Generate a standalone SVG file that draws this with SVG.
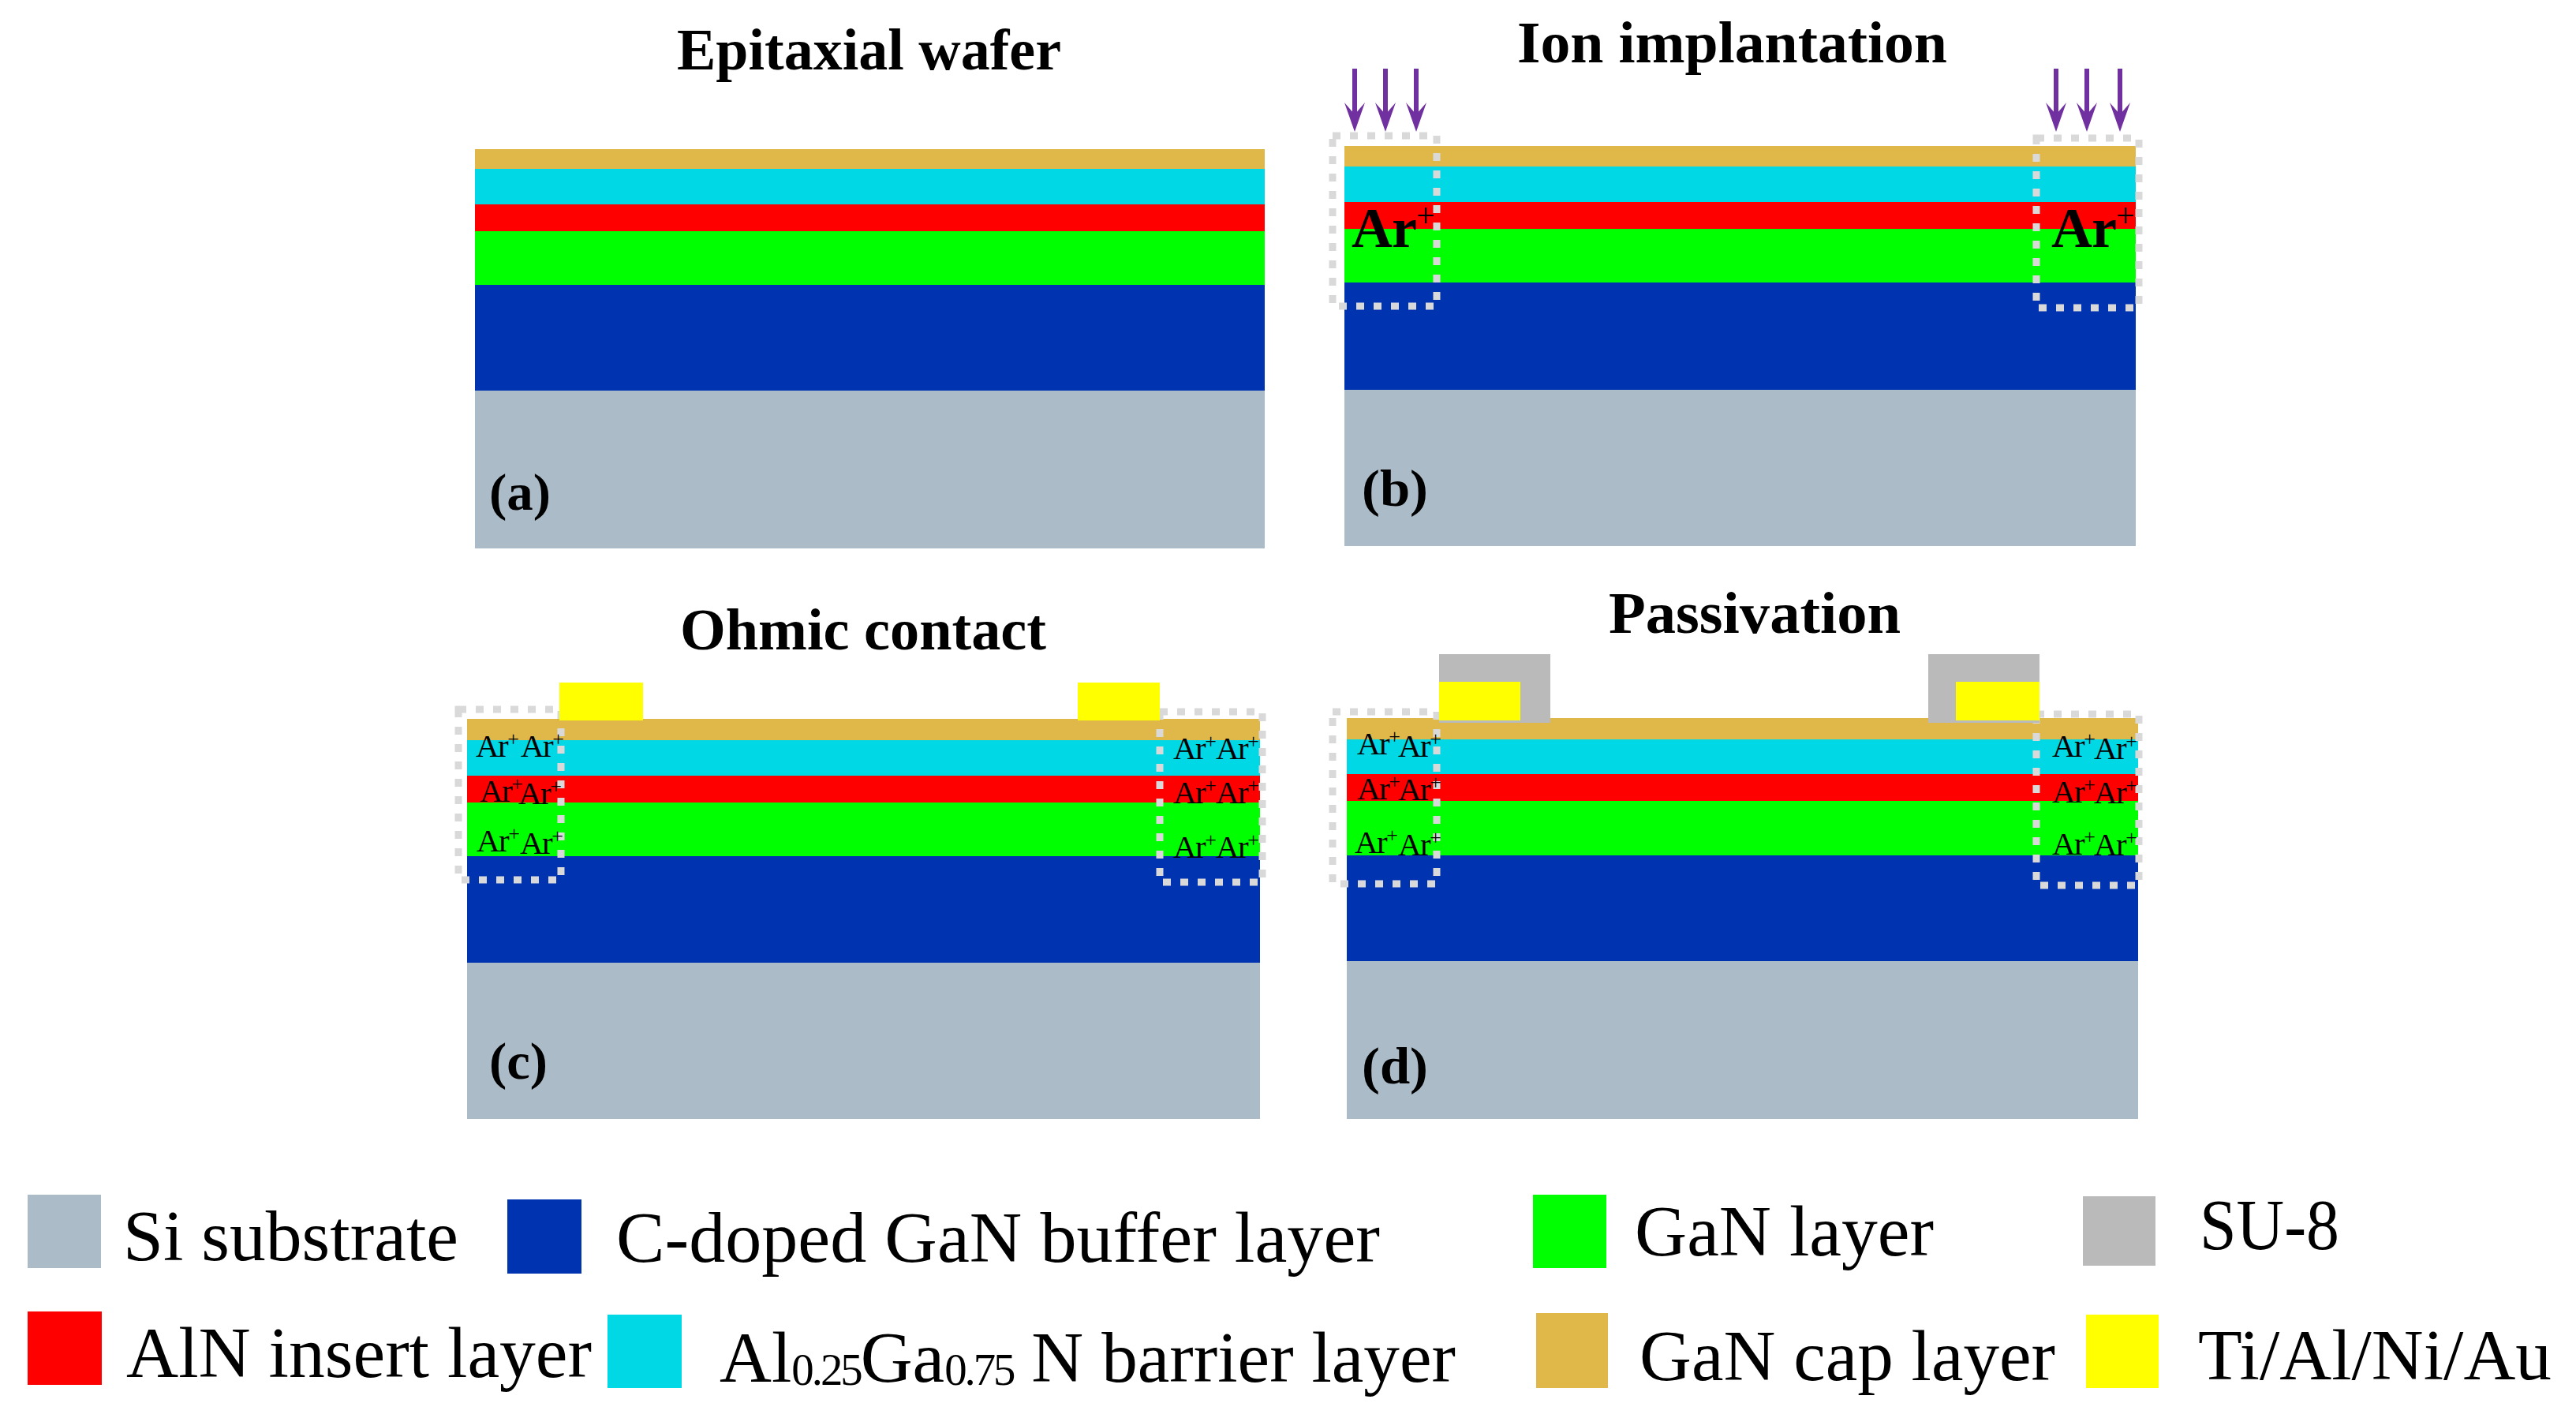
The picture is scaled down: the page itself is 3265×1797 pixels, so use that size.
<svg xmlns="http://www.w3.org/2000/svg" width="3265" height="1797" viewBox="0 0 3265 1797">
<style>
text{font-family:"Liberation Serif","Times New Roman",serif;fill:#000}
.t{font-size:73px;font-weight:bold}
.p{font-size:66px;font-weight:bold}
.l{font-size:90px}
.a{font-size:41px;letter-spacing:-1.5px}
.A{font-size:72px;font-weight:bold;letter-spacing:-1px}
.s{font-size:26px}
.S{font-size:42px;font-weight:normal}
.sub{font-size:56px;letter-spacing:-3px}
.si{fill:#ABBBC8}.bf{fill:#0033B0}.gn{fill:#00FF00}.rd{fill:#FF0000}.cy{fill:#00D8E6}.cp{fill:#E0B84A}.ye{fill:#FFFF00}.gr{fill:#BABABA}
.d{fill:none;stroke:#D9D9D9;stroke-width:9;stroke-dasharray:10 12}
.sh{stroke:#7030A0;stroke-width:6;fill:none}
.hd{fill:#7030A0;stroke:none}
</style>
<defs>
<g id="arrow"><path class="sh" d="M0 87V150"/><path class="hd" d="M0 167L-13 130L0 145L13 130Z"/></g>
</defs>
<rect width="3265" height="1797" fill="#fff"/>

<g id="panel-a">
<rect class="si" x="602" y="495" width="1001" height="200"/>
<rect class="bf" x="602" y="361" width="1001" height="134"/>
<rect class="gn" x="602" y="293" width="1001" height="68"/>
<rect class="rd" x="602" y="259" width="1001" height="34"/>
<rect class="cy" x="602" y="214" width="1001" height="45"/>
<rect class="cp" x="602" y="189" width="1001" height="25"/>
<text class="t" x="858" y="88" textLength="487" lengthAdjust="spacingAndGlyphs">Epitaxial wafer</text>
<text class="p" x="620" y="646" textLength="78" lengthAdjust="spacingAndGlyphs">(a)</text>
</g>

<g id="panel-b">
<rect class="si" x="1704" y="494" width="1003" height="198"/>
<rect class="bf" x="1704" y="358" width="1003" height="136"/>
<rect class="gn" x="1704" y="290" width="1003" height="68"/>
<rect class="rd" x="1704" y="256" width="1003" height="34"/>
<rect class="cy" x="1704" y="211" width="1003" height="45"/>
<rect class="cp" x="1704" y="185" width="1003" height="26"/>
<rect class="d" x="1689" y="172" width="132" height="216"/>
<rect class="d" x="2581" y="175" width="130" height="215"/>
<text class="t" x="1923" y="79" textLength="545" lengthAdjust="spacingAndGlyphs">Ion implantation</text>
<text class="p" x="1726" y="641" textLength="84" lengthAdjust="spacingAndGlyphs">(b)</text>
<text class="A" x="1713" y="313">Ar<tspan class="S" dy="-26">+</tspan></text>
<text class="A" x="2600" y="313">Ar<tspan class="S" dy="-26">+</tspan></text>
</g>

<g id="panel-c">
<rect class="si" x="592" y="1220" width="1005" height="198"/>
<rect class="bf" x="592" y="1085" width="1005" height="135"/>
<rect class="gn" x="592" y="1017" width="1005" height="68"/>
<rect class="rd" x="592" y="983" width="1005" height="34"/>
<rect class="cy" x="592" y="938" width="1005" height="45"/>
<rect class="cp" x="592" y="911" width="1005" height="27"/>
<rect class="d" x="581" y="899" width="130" height="216"/>
<rect class="d" x="1470" y="902" width="130" height="216"/>
<rect class="ye" x="709" y="865" width="106" height="48"/>
<rect class="ye" x="1366" y="865" width="104" height="48"/>
<text class="t" x="862" y="823" textLength="464" lengthAdjust="spacingAndGlyphs">Ohmic contact</text>
<text class="p" x="620" y="1367" textLength="74" lengthAdjust="spacingAndGlyphs">(c)</text>
<text class="a" x="603" y="959">Ar<tspan class="s" dy="-14">+</tspan></text>
<text class="a" x="660" y="959">Ar<tspan class="s" dy="-14">+</tspan></text>
<text class="a" x="608" y="1016">Ar<tspan class="s" dy="-14">+</tspan></text>
<text class="a" x="657" y="1019">Ar<tspan class="s" dy="-14">+</tspan></text>
<text class="a" x="604" y="1079">Ar<tspan class="s" dy="-14">+</tspan></text>
<text class="a" x="659" y="1082">Ar<tspan class="s" dy="-14">+</tspan></text>
<text class="a" x="1487" y="962">Ar<tspan class="s" dy="-14">+</tspan></text>
<text class="a" x="1541" y="962">Ar<tspan class="s" dy="-14">+</tspan></text>
<text class="a" x="1487" y="1018">Ar<tspan class="s" dy="-14">+</tspan></text>
<text class="a" x="1541" y="1018">Ar<tspan class="s" dy="-14">+</tspan></text>
<text class="a" x="1487" y="1087">Ar<tspan class="s" dy="-14">+</tspan></text>
<text class="a" x="1541" y="1087">Ar<tspan class="s" dy="-14">+</tspan></text>
</g>

<g id="panel-d">
<rect class="si" x="1707" y="1218" width="1003" height="200"/>
<rect class="bf" x="1707" y="1084" width="1003" height="134"/>
<rect class="gn" x="1707" y="1015" width="1003" height="69"/>
<rect class="rd" x="1707" y="981" width="1003" height="34"/>
<rect class="cy" x="1707" y="937" width="1003" height="44"/>
<rect class="cp" x="1707" y="910" width="1003" height="27"/>
<rect class="d" x="1689" y="902" width="132" height="218"/>
<rect class="d" x="2581" y="905" width="130" height="217"/>
<rect class="gr" x="1824" y="829" width="141" height="87"/>
<rect class="gr" x="2444" y="829" width="141" height="87"/>
<rect class="ye" x="1824" y="864" width="103" height="49"/>
<rect class="ye" x="2479" y="864" width="106" height="49"/>
<text class="t" x="2039" y="802" textLength="370" lengthAdjust="spacingAndGlyphs">Passivation</text>
<text class="p" x="1726" y="1373" textLength="84" lengthAdjust="spacingAndGlyphs">(d)</text>
<text class="a" x="1720" y="956">Ar<tspan class="s" dy="-14">+</tspan></text>
<text class="a" x="1772" y="959">Ar<tspan class="s" dy="-14">+</tspan></text>
<text class="a" x="1720" y="1013">Ar<tspan class="s" dy="-14">+</tspan></text>
<text class="a" x="1772" y="1014">Ar<tspan class="s" dy="-14">+</tspan></text>
<text class="a" x="1717" y="1081">Ar<tspan class="s" dy="-14">+</tspan></text>
<text class="a" x="1772" y="1084">Ar<tspan class="s" dy="-14">+</tspan></text>
<text class="a" x="2601" y="959">Ar<tspan class="s" dy="-14">+</tspan></text>
<text class="a" x="2654" y="962">Ar<tspan class="s" dy="-14">+</tspan></text>
<text class="a" x="2601" y="1017">Ar<tspan class="s" dy="-14">+</tspan></text>
<text class="a" x="2654" y="1018">Ar<tspan class="s" dy="-14">+</tspan></text>
<text class="a" x="2601" y="1083">Ar<tspan class="s" dy="-14">+</tspan></text>
<text class="a" x="2654" y="1084">Ar<tspan class="s" dy="-14">+</tspan></text>
</g>

<g id="connectors">
<use href="#arrow" x="1717"/>
<use href="#arrow" x="1756"/>
<use href="#arrow" x="1795"/>
<use href="#arrow" x="2606"/>
<use href="#arrow" x="2645"/>
<use href="#arrow" x="2687"/>
</g>

<g id="legend">
<rect class="si" x="35" y="1514" width="93" height="93"/>
<rect class="bf" x="643" y="1520" width="94" height="94"/>
<rect class="gn" x="1943" y="1514" width="93" height="93"/>
<rect class="gr" x="2640" y="1516" width="92" height="88"/>
<rect class="rd" x="35" y="1662" width="94" height="93"/>
<rect class="cy" x="770" y="1666" width="94" height="93"/>
<rect class="cp" x="1947" y="1664" width="91" height="95"/>
<rect class="ye" x="2644" y="1666" width="92" height="93"/>
<text class="l" x="156" y="1597" textLength="425" lengthAdjust="spacingAndGlyphs">Si substrate</text>
<text class="l" x="781" y="1599" textLength="968" lengthAdjust="spacingAndGlyphs">C-doped GaN buffer layer</text>
<text class="l" x="2072" y="1591" textLength="379" lengthAdjust="spacingAndGlyphs">GaN layer</text>
<text class="l" x="2788" y="1583" textLength="177" lengthAdjust="spacingAndGlyphs">SU-8</text>
<text class="l" x="160" y="1745" textLength="590" lengthAdjust="spacingAndGlyphs">AlN insert layer</text>
<text class="l" x="912" y="1751" textLength="933" lengthAdjust="spacingAndGlyphs">Al<tspan class="sub" dy="4">0.25</tspan><tspan dy="-4">Ga</tspan><tspan class="sub" dy="4">0.75</tspan><tspan dy="-4"> N barrier layer</tspan></text>
<text class="l" x="2078" y="1749" textLength="527" lengthAdjust="spacingAndGlyphs">GaN cap layer</text>
<text class="l" x="2786" y="1748" textLength="448" lengthAdjust="spacingAndGlyphs">Ti/Al/Ni/Au</text>
</g>
</svg>
